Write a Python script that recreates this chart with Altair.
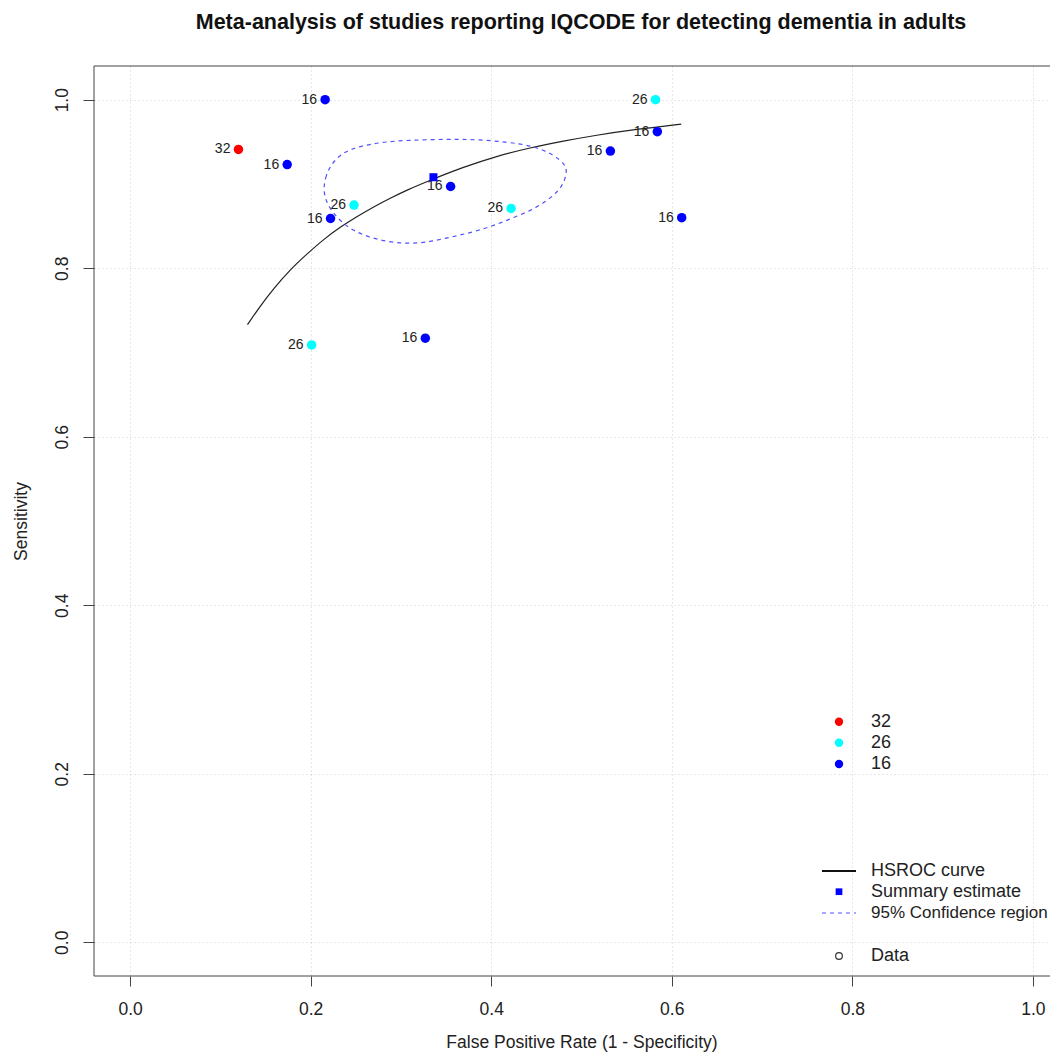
import altair as alt
import pandas as pd

FONT = "Liberation Sans"

# ---- data ----
study_fpr = [0.120, 0.216, 0.174, 0.248, 0.222, 0.201, 0.327, 0.355, 0.422, 0.532, 0.582, 0.584, 0.611]
study_sens = [0.941, 1.000, 0.923, 0.875, 0.859, 0.709, 0.717, 0.897, 0.871, 0.939, 1.000, 0.962, 0.860]
study_cutoff = ["32", "16", "16", "26", "16", "26", "16", "16", "26", "16", "26", "16", "16"]

summary_fpr = [0.336]
summary_sens = [0.908]

curve_fpr = [0.130, 0.144, 0.159, 0.177, 0.196, 0.214, 0.233, 0.251, 0.270, 0.288, 0.307, 0.329,
             0.369, 0.406, 0.443, 0.480, 0.517, 0.554, 0.6105]
curve_sens = [0.733, 0.755, 0.776, 0.798, 0.817, 0.834, 0.849, 0.861, 0.873, 0.883, 0.893, 0.903,
              0.920, 0.933, 0.943, 0.951, 0.958, 0.964, 0.971]

ell_fpr = [0.214, 0.216, 0.222, 0.236, 0.255, 0.281, 0.310, 0.347, 0.380, 0.417, 0.447, 0.469, 0.482,
           0.484, 0.480, 0.469, 0.451, 0.425, 0.399, 0.373, 0.347, 0.321, 0.292, 0.266, 0.244, 0.229,
           0.218]
ell_sens = [0.892, 0.907, 0.923, 0.938, 0.945, 0.950, 0.952, 0.953, 0.953, 0.950, 0.945, 0.935, 0.923,
            0.915, 0.899, 0.886, 0.872, 0.860, 0.849, 0.841, 0.835, 0.829, 0.830, 0.836, 0.846, 0.860,
            0.876]

color_levels = ["32", "26", "16"]
color_values = ["#ff0000", "#00ffff", "#0000ff"]
legend2_labels = ["HSROC curve", "Summary estimate", "95% Confidence region", "Data"]
legend2_sizes = [18, 18, 17, 18]
tick_values = [0.0, 0.2, 0.4, 0.6, 0.8, 1.0]

title_text = "Meta-analysis of studies reporting IQCODE for detecting dementia in adults"
x_title = "False Positive Rate (1 - Specificity)"
y_title = "Sensitivity"

# ---- tables ----
studies = pd.DataFrame({"fpr": study_fpr, "sens": study_sens, "cutoff": study_cutoff})
summary = pd.DataFrame({"fpr": summary_fpr, "sens": summary_sens})
curve = pd.DataFrame({"fpr": curve_fpr, "sens": curve_sens, "i": list(range(len(curve_fpr)))})
ellipse = pd.DataFrame({"fpr": ell_fpr, "sens": ell_sens, "i": list(range(len(ell_fpr)))})
one = pd.DataFrame({"a": [0]})

W, H = 956, 910
XR = 975

xscale = alt.Scale(domain=[-0.04, 1.04], range=[0, XR], nice=False, zero=False)
yscale = alt.Scale(domain=[-0.04, 1.04], nice=False, zero=False)

xaxis = alt.Axis(values=tick_values, format=".1f", domain=False, tickSize=10, tickColor="#444",
                 labelPadding=14, labelFontSize=17.5, labelFont=FONT, labelColor="#222",
                 labelFlush=False, labelOverlap=False, labelBound=False,
                 grid=True, gridColor="#cfcfcf", gridDash=[1, 3],
                 titleFontSize=17.5, titleFont=FONT, titleFontWeight="normal", titleColor="#222",
                 titlePadding=16)
yaxis = alt.Axis(values=tick_values, format=".1f", domain=False, tickSize=11, tickColor="#444",
                 labelPadding=16, labelFontSize=17.5, labelFont=FONT, labelColor="#222",
                 labelAngle=270, labelAlign="center", labelBaseline="alphabetic",
                 labelFlush=False, labelOverlap=False, labelBound=False,
                 grid=True, gridColor="#cfcfcf", gridDash=[1, 3],
                 titleFontSize=17.5, titleFont=FONT, titleFontWeight="normal", titleColor="#222",
                 titlePadding=23)


def X():
    return alt.X("fpr:Q", scale=xscale, axis=xaxis, title=x_title)


def Y():
    return alt.Y("sens:Q", scale=yscale, axis=yaxis, title=y_title)


layers = []

# HSROC curve
layers.append(alt.Chart(curve).mark_line(color="#222", strokeWidth=1.2, interpolate="basis").encode(
    x=X(), y=Y(), order="i:Q"))

# confidence ellipse
layers.append(alt.Chart(ellipse).mark_line(color="#5050ff", strokeWidth=1.2, strokeDash=[4, 4],
                                           interpolate="basis-closed").encode(
    x=X(), y=Y(), order="i:Q"))

# study points
layers.append(alt.Chart(studies).mark_circle(size=90, opacity=1).encode(
    x=X(), y=Y(),
    color=alt.Color("cutoff:N", scale=alt.Scale(domain=color_levels, range=color_values), legend=None)))

# study labels
layers.append(alt.Chart(studies).mark_text(align="right", baseline="middle", dx=-8, fontSize=14,
                                           font=FONT, color="#222").encode(
    x=X(), y=Y(), text="cutoff:N"))

# summary estimate
layers.append(alt.Chart(summary).mark_point(shape="square", filled=True, size=64, color="#0000ff",
                                            opacity=1).encode(x=X(), y=Y()))

# plot box (left, top, bottom)
layers.append(alt.Chart(one).mark_rule(color="#444", strokeWidth=1).encode(
    x=alt.value(0), x2=alt.value(XR), y=alt.value(0)))
layers.append(alt.Chart(one).mark_rule(color="#444", strokeWidth=1).encode(
    x=alt.value(0), x2=alt.value(XR), y=alt.value(H)))
layers.append(alt.Chart(one).mark_rule(color="#444", strokeWidth=1).encode(
    x=alt.value(0), y=alt.value(0), y2=alt.value(H)))

# legend 1 (cutoffs)
LX_SYM, LX_TXT = 745, 777
leg1_y = [655.7, 676.7, 698.0]
for lab, col, yy in zip(color_levels, color_values, leg1_y):
    d = pd.DataFrame({"label": [lab]})
    layers.append(alt.Chart(d).mark_circle(size=70, opacity=1, color=col).encode(
        x=alt.value(LX_SYM), y=alt.value(yy)))
    layers.append(alt.Chart(d).mark_text(align="left", baseline="middle", fontSize=18, font=FONT,
                                         color="#222").encode(
        x=alt.value(LX_TXT), y=alt.value(yy), text="label:N"))

# legend 2
leg2_y = [805.0, 825.7, 847.0, 890.0]
for lab, fs, yy in zip(legend2_labels, legend2_sizes, leg2_y):
    d = pd.DataFrame({"label": [lab]})
    layers.append(alt.Chart(d).mark_text(align="left", baseline="middle", fontSize=fs, font=FONT,
                                         color="#222").encode(
        x=alt.value(LX_TXT), y=alt.value(yy), text="label:N"))
layers.append(alt.Chart(one).mark_rule(color="#111", strokeWidth=2).encode(
    x=alt.value(728), x2=alt.value(762), y=alt.value(leg2_y[0])))
layers.append(alt.Chart(one).mark_point(shape="square", filled=True, size=45, color="#0000ff",
                                        opacity=1).encode(x=alt.value(LX_SYM), y=alt.value(leg2_y[1])))
layers.append(alt.Chart(one).mark_rule(color="#5050ff", strokeWidth=1.2, strokeDash=[4, 4]).encode(
    x=alt.value(728), x2=alt.value(762), y=alt.value(leg2_y[2])))
layers.append(alt.Chart(one).mark_point(shape="circle", filled=False, size=45, color="#333",
                                        strokeWidth=1.2, opacity=1).encode(
    x=alt.value(LX_SYM), y=alt.value(leg2_y[3])))

chart = alt.layer(*layers).properties(
    width=W, height=H,
    title=alt.TitleParams(text=title_text, font=FONT, fontSize=21.5, fontWeight="bold", color="#111",
                          offset=32, dx=9, anchor="middle"),
    autosize=alt.AutoSizeParams(type="none"),
    padding={"left": 86, "top": 58, "right": 0, "bottom": 77},
    background="white",
).configure_view(strokeWidth=0)

chart.save("out.html", embed_options={"renderer": "svg", "actions": False})
